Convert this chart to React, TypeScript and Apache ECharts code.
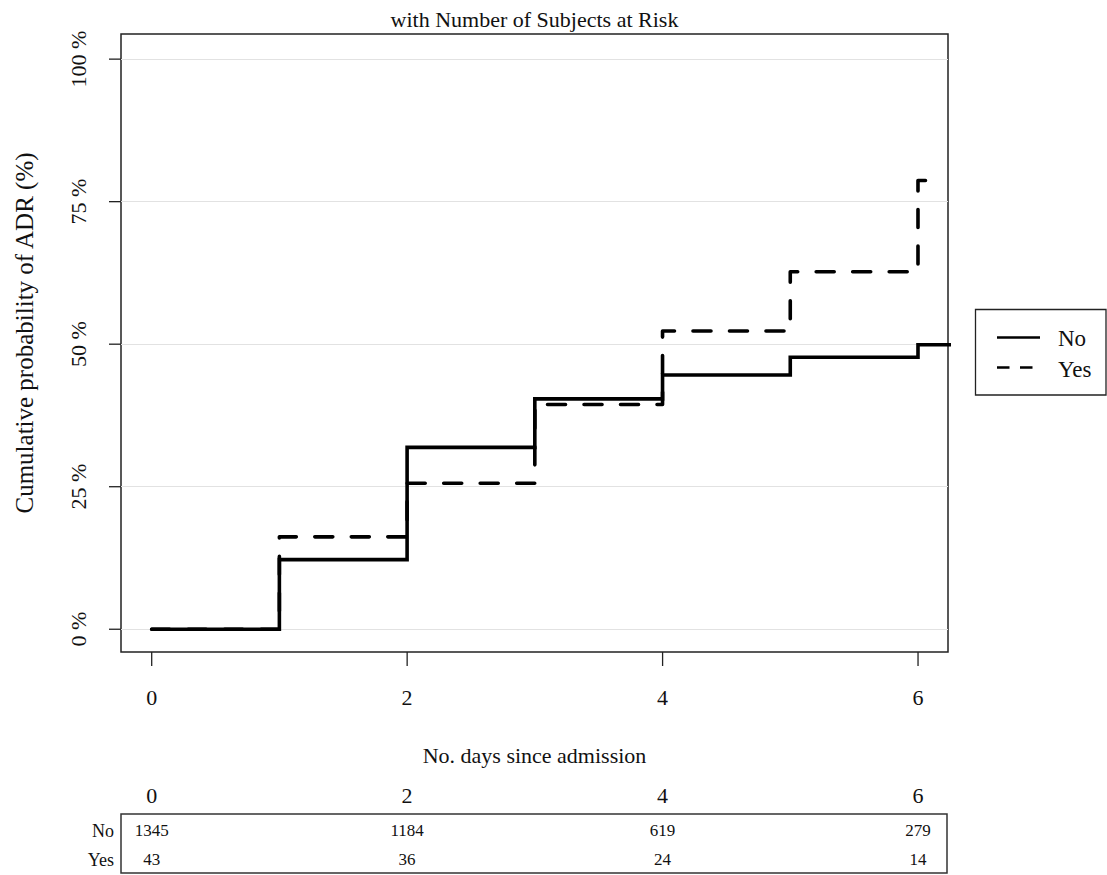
import React, { useEffect, useRef } from "react";
import * as echarts from "echarts";

// Cumulative incidence of ADR by group (step function, jumps at each day)
const timePoints = [0, 1, 2, 3, 4, 5, 6];
const cumIncNo = [0, 12.2, 31.9, 40.4, 44.6, 47.7, 49.9];
const cumIncYes = [0, 16.2, 25.6, 39.4, 52.3, 62.7, 78.7];
const lastFollowUpNo = 6.3;
const lastFollowUpYes = 6.18;

// Number of subjects at risk
const riskTimes = [0, 2, 4, 6];
const atRiskNo = [1345, 1184, 619, 279];
const atRiskYes = [43, 36, 24, 14];
const groupNames = ["No", "Yes"];

// Axis ticks
const xTicks = [0, 2, 4, 6];
const yTicks = [0, 25, 50, 75, 100];

const FONT = "Liberation Serif";
const INK = "#111";

function stepData(times: number[], values: number[], end: number) {
  const pts = times.map((t, i) => [t, values[i]]);
  pts.push([end, values[values.length - 1]]);
  return pts;
}

export default function App() {
  const ref = useRef<HTMLDivElement>(null);

  useEffect(() => {
    if (!ref.current) return;
    const chart = echarts.init(ref.current, null, { renderer: "svg" });

    const gridLeft = 121;
    const gridTop = 34;
    const gridWidth = 827;
    const gridHeight = 618;
    const gridBottomY = gridTop + gridHeight;

    chart.setOption({
      animation: false,
      backgroundColor: "#fff",
      grid: {
        left: gridLeft,
        top: gridTop,
        width: gridWidth,
        height: gridHeight,
        show: true,
        borderColor: "#222",
        borderWidth: 1.5,
        backgroundColor: "transparent",
      },
      xAxis: {
        type: "value",
        min: -0.24,
        max: 6.235,
        name: "No. days since admission",
        nameLocation: "middle",
        nameGap: 92,
        nameTextStyle: { fontFamily: FONT, fontSize: 22, color: INK },
        axisLine: { show: false, onZero: false },
        axisTick: { show: false, customValues: xTicks },
        axisLabel: {
          customValues: xTicks,
          margin: 34,
          fontFamily: FONT,
          fontSize: 22,
          color: INK,
        },
        splitLine: { show: false },
      },
      yAxis: {
        type: "value",
        min: -4,
        max: 104.4,
        name: "Cumulative probability of ADR (%)",
        nameLocation: "middle",
        nameRotate: 90,
        nameGap: 84,
        nameTextStyle: { fontFamily: FONT, fontSize: 25, color: INK, padding: [0, 0, 0, 20] },
        axisLine: { show: false, onZero: false },
        axisTick: { show: false, customValues: yTicks },
        axisLabel: {
          customValues: yTicks,
          rotate: 90,
          margin: 32,
          fontFamily: FONT,
          fontSize: 22,
          color: INK,
          formatter: (v: number) => `${v} %`,
        },
        splitLine: {
          show: true,
          lineStyle: { color: "#e2e2e2", width: 1.2 },
        },
      },
      series: [
        {
          name: groupNames[0],
          type: "line",
          step: "end",
          symbol: "none",
          clip: true,
          data: stepData(timePoints, cumIncNo, lastFollowUpNo),
          lineStyle: { color: "#000", width: 3.6, cap: "round", join: "miter" },
          z: 3,
        },
        {
          name: groupNames[1],
          type: "line",
          step: "end",
          symbol: "none",
          clip: true,
          data: stepData(timePoints, cumIncYes, lastFollowUpYes),
          lineStyle: {
            color: "#000",
            width: 3.6,
            type: [18, 18.5],
            cap: "round",
            join: "round",
          },
          z: 2,
        },
      ],
    });

    // Tick marks, risk table and legend, placed through the chart's scales
    const px = (v: number) => Number(chart.convertToPixel({ xAxisIndex: 0 }, v));
    const py = (v: number) => Number(chart.convertToPixel({ yAxisIndex: 0 }, v));
    const plotCenter = gridLeft + gridWidth / 2;
    const tableTop = 814;
    const tableBottom = 873;
    const rowY = [830.5, 859.5];

    const graphics: any[] = [];

    xTicks.forEach((t) => {
      graphics.push({
        type: "rect",
        z: 100,
        shape: { x: px(t) - 0.6, y: gridBottomY, width: 1.3, height: 14 },
        style: { fill: "#222" },
      });
    });
    yTicks.forEach((v) => {
      graphics.push({
        type: "rect",
        z: 100,
        shape: { x: gridLeft - 12, y: py(v) - 0.6, width: 12, height: 1.3 },
        style: { fill: "#222" },
      });
    });

    graphics.push(
      {
        type: "text",
        x: plotCenter,
        y: 8,
        style: {
          text: "with Number of Subjects at Risk",
          fontFamily: FONT,
          fontSize: 22,
          fill: INK,
          align: "center",
          verticalAlign: "top",
        },
      },
      {
        type: "rect",
        shape: { x: gridLeft, y: tableTop, width: gridWidth - 1, height: tableBottom - tableTop },
        style: { fill: "none", stroke: "#333", lineWidth: 1.5 },
      }
    );

    riskTimes.forEach((t) => {
      graphics.push({
        type: "text",
        x: px(t),
        y: 795,
        style: {
          text: String(t),
          fontFamily: FONT,
          fontSize: 22,
          fill: INK,
          align: "center",
          verticalAlign: "middle",
        },
      });
    });

    [atRiskNo, atRiskYes].forEach((row, r) => {
      graphics.push({
        type: "text",
        x: 114,
        y: rowY[r],
        style: {
          text: groupNames[r],
          fontFamily: FONT,
          fontSize: 18,
          fill: INK,
          align: "right",
          verticalAlign: "middle",
        },
      });
      row.forEach((n, i) => {
        graphics.push({
          type: "text",
          x: px(riskTimes[i]),
          y: rowY[r],
          style: {
            text: String(n),
            fontFamily: FONT,
            fontSize: 17,
            fill: INK,
            align: "center",
            verticalAlign: "middle",
          },
        });
      });
    });

    // Legend box
    const legX = 975.5;
    const legY = 309.5;
    graphics.push(
      {
        type: "rect",
        shape: { x: legX, y: legY, width: 130.5, height: 85.5 },
        style: { fill: "#fff", stroke: "#222", lineWidth: 1.3 },
      },
      {
        type: "line",
        shape: { x1: 997, y1: 337.5, x2: 1040, y2: 337.5 },
        style: { stroke: "#000", lineWidth: 2.6 },
      },
      {
        type: "line",
        shape: { x1: 997, y1: 367.5, x2: 1040, y2: 367.5 },
        style: { stroke: "#000", lineWidth: 2.6, lineDash: [12.5, 10.5] },
      },
      {
        type: "text",
        x: 1058,
        y: 338,
        style: { text: groupNames[0], fontFamily: FONT, fontSize: 23, fill: INK, verticalAlign: "middle" },
      },
      {
        type: "text",
        x: 1058,
        y: 369,
        style: { text: groupNames[1], fontFamily: FONT, fontSize: 23, fill: INK, verticalAlign: "middle" },
      }
    );

    chart.setOption({ graphic: graphics });

    return () => chart.dispose();
  }, []);

  return (
    <div
      ref={ref}
      style={{ position: "absolute", left: 0, top: 0, width: 1107, height: 875 }}
    />
  );
}
